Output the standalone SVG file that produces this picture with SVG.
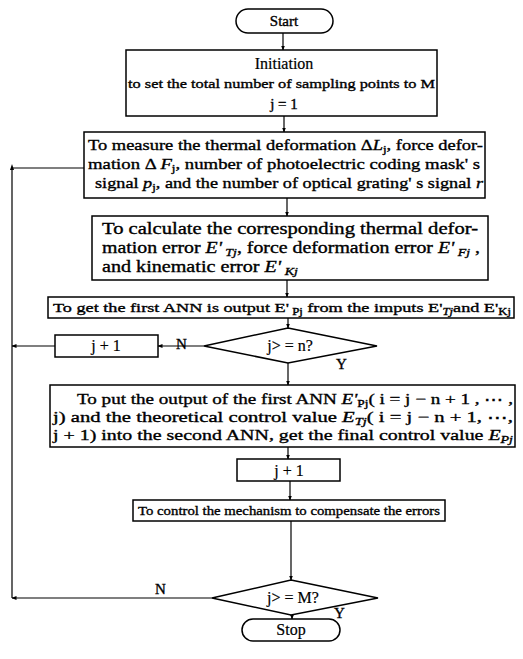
<svg xmlns="http://www.w3.org/2000/svg" width="523" height="659" viewBox="0 0 523 659">
<defs>
<marker id="ah" viewBox="0 0 10 10" refX="9" refY="5" markerWidth="5" markerHeight="5" orient="auto-start-reverse" markerUnits="userSpaceOnUse">
<path d="M0,1 L10,5 L0,9 z" fill="#000"/>
</marker>
<style>
.b{fill:#fff;stroke:#000;stroke-width:1.5}
.c{fill:none;stroke:#000;stroke-width:1.2}
.t{font-family:"Liberation Serif","Times New Roman",serif;fill:#000;stroke:#000;stroke-width:0.35}
.n{font-family:"Liberation Serif","Times New Roman",serif;fill:#000;stroke:#000;stroke-width:0.2}
.s{font-size:70%}
.i{font-style:italic}
</style>
</defs>
<rect width="523" height="659" fill="#fff"/>
<g id="connectors">
<line class="c" x1="283" y1="33" x2="283" y2="50" marker-end="url(#ah)"/>
<line class="c" x1="284" y1="116" x2="284" y2="132" marker-end="url(#ah)"/>
<line class="c" x1="287" y1="198" x2="287" y2="216" marker-end="url(#ah)"/>
<line class="c" x1="287" y1="280" x2="287" y2="297" marker-end="url(#ah)"/>
<line class="c" x1="288" y1="318" x2="288" y2="328" marker-end="url(#ah)"/>
<line class="c" x1="288" y1="363" x2="288" y2="385" marker-end="url(#ah)"/>
<line class="c" x1="288" y1="447" x2="288" y2="459" marker-end="url(#ah)"/>
<line class="c" x1="290" y1="481" x2="290" y2="500" marker-end="url(#ah)"/>
<line class="c" x1="291" y1="521" x2="291" y2="580" marker-end="url(#ah)"/>
<line class="c" x1="292" y1="615" x2="292" y2="619" marker-end="url(#ah)"/>
<line class="c" x1="204" y1="346" x2="158" y2="346" marker-end="url(#ah)"/>
<line class="c" x1="55" y1="346" x2="12" y2="346" marker-end="url(#ah)"/>
<line class="c" x1="212" y1="598" x2="12" y2="598" marker-end="url(#ah)"/>
<polyline class="c" points="12,598 12,168 84,168"/>
<path d="M12,164 L10,170 L14,170 z" fill="#000"/>
<text class="t" x="176" y="349" font-size="15">N</text>
<text class="t" x="336" y="369" font-size="15">Y</text>
<text class="t" x="155" y="594" font-size="15">N</text>
<text class="t" x="334" y="618" font-size="15">Y</text>
</g>
<g id="start">
<rect class="b" x="236" y="9" width="97" height="24" rx="12"/>
<text class="t" x="284" y="26" font-size="15" text-anchor="middle">Start</text>
</g>
<g id="init">
<rect class="b" x="126" y="50" width="311" height="66"/>
<text class="n" x="284" y="69" font-size="16" text-anchor="middle">Initiation</text>
<text class="t" x="128" y="88" font-size="13" textLength="307" lengthAdjust="spacingAndGlyphs">to set the total number of sampling points to M</text>
<text class="t" x="284" y="109" font-size="15" text-anchor="middle">j = 1</text>
</g>
<g id="measure">
<rect class="b" x="84" y="132" width="401" height="66"/>
<text class="t" x="88" y="150" font-size="15" textLength="395" lengthAdjust="spacingAndGlyphs">To measure the thermal deformation Δ<tspan class="i">L</tspan><tspan class="s" dy="3">j</tspan><tspan dy="-3">, force defor-</tspan></text>
<text class="t" x="88" y="169" font-size="15" textLength="392" lengthAdjust="spacingAndGlyphs">mation Δ <tspan class="i">F</tspan><tspan class="s" dy="3">j</tspan><tspan dy="-3">, number of photoelectric coding mask' s</tspan></text>
<text class="t" x="95" y="188" font-size="15" textLength="388" lengthAdjust="spacingAndGlyphs">signal <tspan class="i">p</tspan><tspan class="s" dy="3">j</tspan><tspan dy="-3">, and the number of optical grating' s signal </tspan><tspan class="i">r</tspan></text>
</g>
<g id="calc">
<rect class="b" x="92" y="216" width="396" height="64"/>
<text class="t" x="102" y="234" font-size="16" textLength="376" lengthAdjust="spacingAndGlyphs">To calculate the corresponding thermal defor-</text>
<text class="t" x="102" y="253" font-size="16" textLength="378" lengthAdjust="spacingAndGlyphs">mation error <tspan class="i">E'</tspan><tspan class="s i" dy="3"> Tj</tspan><tspan dy="-3">, force deformation error </tspan><tspan class="i">E'</tspan><tspan class="s i" dy="3"> Fj</tspan><tspan dy="-3"> ,</tspan></text>
<text class="t" x="102" y="272" font-size="16" textLength="196" lengthAdjust="spacingAndGlyphs">and kinematic error <tspan class="i">E'</tspan><tspan class="s i" dy="3"> Kj</tspan></text>
</g>
<g id="ann1">
<rect class="b" x="48" y="297" width="466" height="21"/>
<text class="t" x="53" y="312" font-size="13.5" textLength="458" lengthAdjust="spacingAndGlyphs">To get the first ANN is output E'<tspan class="s" dy="3"> Pj</tspan><tspan dy="-3"> from the imputs E'</tspan><tspan class="s i" dy="3">Tj</tspan><tspan dy="-3">and E'</tspan><tspan class="s" dy="3">Kj</tspan></text>
</g>
<g id="dec1">
<polygon class="b" points="288,328 377,346 288,363 204,346"/>
<text class="n" x="290" y="351" font-size="16" text-anchor="middle">j&gt; = n?</text>
</g>
<g id="inc1">
<rect class="b" x="55" y="335" width="103" height="22"/>
<text class="n" x="106" y="351" font-size="16" text-anchor="middle">j + 1</text>
</g>
<g id="ann2">
<rect class="b" x="50" y="385" width="465" height="62"/>
<text class="t" x="77" y="404" font-size="15" textLength="436" lengthAdjust="spacingAndGlyphs">To put the output of the first ANN <tspan class="i">E'</tspan><tspan class="s" dy="3">Pj</tspan><tspan dy="-3">( i = j − n + 1 , ⋯ ,</tspan></text>
<text class="t" x="53" y="422" font-size="15" textLength="460" lengthAdjust="spacingAndGlyphs">j)  and the theoretical control value <tspan class="i">E</tspan><tspan class="s i" dy="3">Tj</tspan><tspan dy="-3">( i = j − n + 1,   ⋯,</tspan></text>
<text class="t" x="53" y="440" font-size="15" textLength="460" lengthAdjust="spacingAndGlyphs">j + 1) into the second ANN, get the final control value <tspan class="i">E</tspan><tspan class="s i" dy="3">Pj</tspan></text>
</g>
<g id="inc2">
<rect class="b" x="237" y="459" width="103" height="22"/>
<text class="n" x="289" y="476" font-size="16" text-anchor="middle">j + 1</text>
</g>
<g id="control">
<rect class="b" x="133" y="500" width="312" height="21"/>
<text class="t" x="138" y="515" font-size="13" textLength="302" lengthAdjust="spacingAndGlyphs">To control the mechanism to compensate the errors</text>
</g>
<g id="dec2">
<polygon class="b" points="291,580 378,598 291,615 212,598"/>
<text class="n" x="293" y="603" font-size="16" text-anchor="middle">j&gt; = M?</text>
</g>
<g id="stop">
<rect class="b" x="242" y="619" width="98" height="22" rx="11"/>
<text class="n" x="291" y="635" font-size="16" text-anchor="middle">Stop</text>
</g>
</svg>
